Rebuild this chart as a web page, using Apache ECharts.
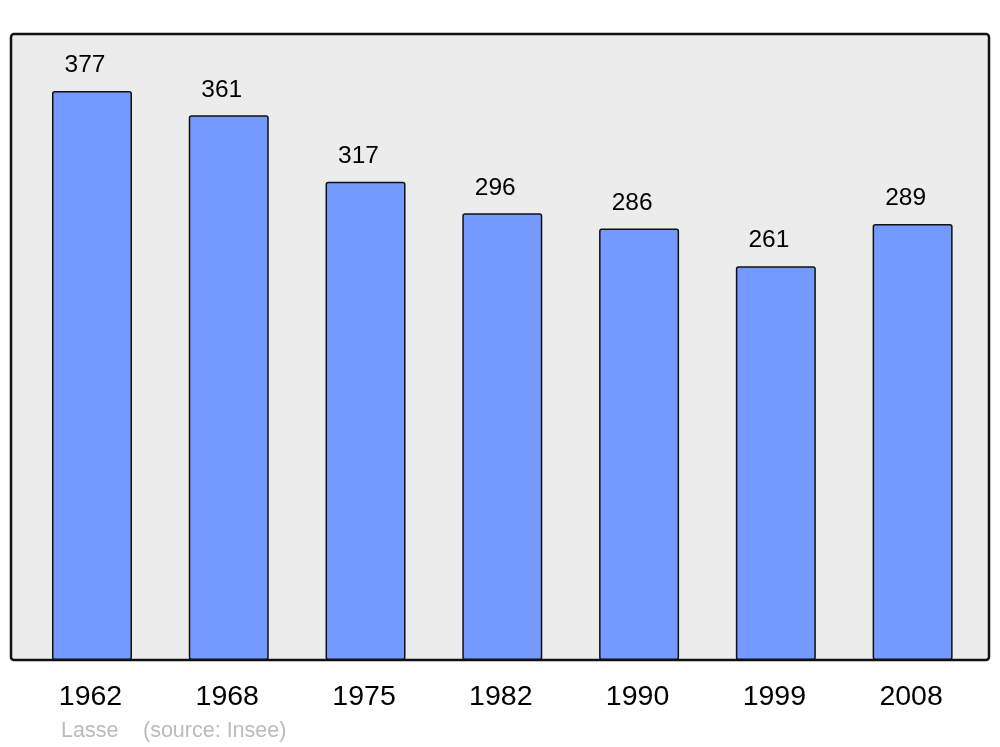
<!DOCTYPE html>
<html><head><meta charset="utf-8">
<script src="https://cdn.jsdelivr.net/npm/echarts@6/dist/echarts.min.js"></script>
<style>html,body{margin:0;padding:0;background:#fff}#c{width:1000px;height:747px}</style>
</head><body><div id="c"></div>
<script>
const years = ['1962','1968','1975','1982','1990','1999','2008'];
const population = [377,361,317,296,286,261,289];
const author = 'Lasse';
const source = '(source: Insee)';

const chart = echarts.init(document.getElementById('c'), null, {renderer:'canvas'});
chart.setOption({
  animation:false,
  textStyle:{fontFamily:'Liberation Sans, Arial, sans-serif'},
  graphic:[
    {type:'rect', z:-10, shape:{x:11,y:34,width:978,height:626,r:3},
     style:{fill:'#ececec',stroke:'#111',lineWidth:2.5}},
    {type:'text', left:61, top:720, style:{text:author, fill:'#bbbbbb', font:'21.5px "Liberation Sans", Arial, sans-serif'}},
    {type:'text', left:143, top:720, style:{text:source, fill:'#bbbbbb', font:'21.5px "Liberation Sans", Arial, sans-serif'}}
  ],
  grid:{left:23.6, right:19, top:56.4, bottom:87, containLabel:false},
  xAxis:{type:'category', data:years,
    axisLine:{show:false}, axisTick:{show:false},
    axisLabel:{color:'#000', fontSize:28.5, margin:23, padding:[0,3,0,0], fontFamily:'Liberation Sans, Arial, sans-serif'}},
  yAxis:{type:'value', min:0, max:400, show:false, splitLine:{show:false}},
  series:[{type:'bar', data:population, barWidth:80,
    itemStyle:{color:'#7499ff', borderColor:'#111', borderWidth:1.5, borderRadius:2},
    label:{show:true, position:'top', distance:13, offset:[-7,0], color:'#000', fontSize:24.5, fontFamily:'Liberation Sans, Arial, sans-serif'}}]
});
</script></body></html>
